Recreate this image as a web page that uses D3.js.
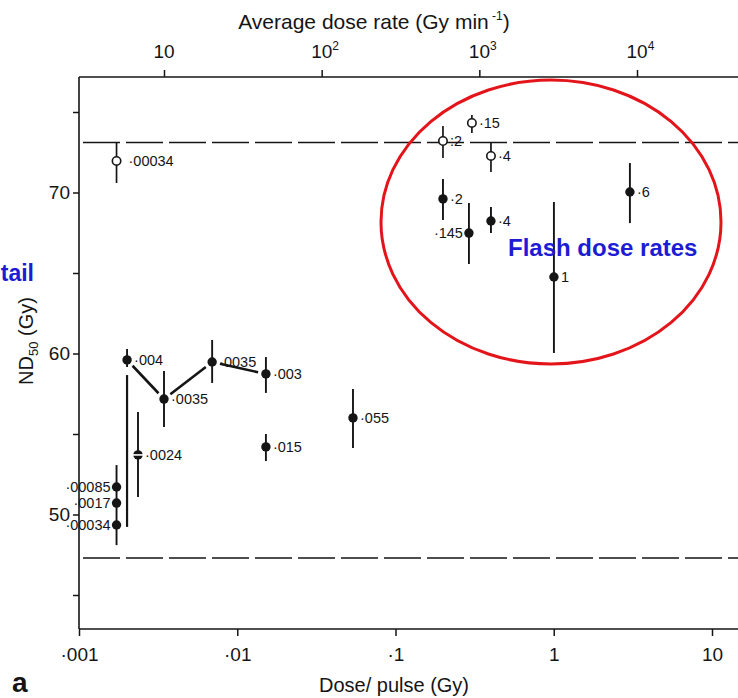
<!DOCTYPE html>
<html><head><meta charset="utf-8">
<script src="https://cdn.jsdelivr.net/npm/d3@7"></script>
<style>
body{margin:0;background:#fff}
svg{display:block;font-family:"Liberation Sans",Arial,Helvetica,sans-serif}
</style>
</head><body>
<svg id="c" width="738" height="698"></svg>
<script>
// ---------- data ----------
const rateTicks = [10, 100, 1000, 10000];
const doseTicks = [0.001, 0.01, 0.1, 1, 10];
const doseTickLabels = ["·001", "·01", "·1", "1", "10"];
const ndTicks = [45, 50, 55, 60, 65, 70, 75];
const ndTickLabels = ["", "50", "", "60", "", "70", ""];

// open circles (average dose rate in Gy/min, ND50 in Gy)
const openRate  = [5.0, 588, 897, 1185];
const openND    = [71.96, 73.2, 74.32, 72.27];
const openLo    = [70.59, 72.14, 73.70, 71.27];
const openHi    = [73.14, 74.13, 74.81, 73.07];
const openPulse = ["·00034", ":2", "·15", "·4"];

// filled circles
const filledRate  = [5.0, 5.0, 5.0, 5.83, 6.84, 10.0, 20.2, 44.3, 44.3, 158, 588, 859, 1185, 2972, 9016];
const filledND    = [51.71, 50.71, 49.35, 59.6, 53.7, 57.17, 59.47, 58.73, 54.2, 56.0, 69.6, 67.48, 68.23, 64.75, 70.03];
const filledLo    = [51.71, 49.35, 48.1, 59.16, 51.09, 55.43, 58.17, 57.55, 53.32, 54.13, 68.29, 65.56, 67.48, 60.03, 68.1];
const filledHi    = [53.07, 51.71, 49.35, 60.28, 56.37, 58.91, 60.84, 59.78, 55.0, 57.8, 70.84, 69.35, 69.1, 69.41, 71.83];
const filledPulse = ["·00085", "·0017", "·00034", "·004", "·0024", "·0035", "·0035", "·003", "·015", "·055", "·2", "·145", "·4", "1", "·6"];
const filledLabelLeft = [true, true, true, false, false, false, false, false, false, false, false, true, false, false, false];
const filledSplit     = [false, false, false, false, true, false, false, false, false, false, false, false, false, false, false];

// joined curve and the vertical rise
const trendRate = [5.83, 10.0, 20.2, 44.3];
const trendND   = [59.6, 57.17, 59.47, 58.73];
const riseRate  = [5.83, 5.83];
const riseND    = [49.23, 58.66];

// dashed reference levels
const refLines = [73.1, 47.3];

// ---------- layout ----------
const L = 79, T = 77, B = 629, R = 760;
const svg = d3.select("#c");
const ink = "#151515";

const xRate = d3.scaleLog().domain([10, 10000]).range([164, 637]);
const xDose = d3.scaleLog().domain([0.001, 10]).range([79, 712]);
const y = d3.scaleLinear().domain([50, 70]).range([514.5, 192.5]);

// frame lines
svg.append("line").attr("x1", L).attr("x2", R).attr("y1", T).attr("y2", T).attr("stroke", ink).attr("stroke-width", 1.6);
svg.append("line").attr("x1", L).attr("x2", R).attr("y1", B).attr("y2", B).attr("stroke", ink).attr("stroke-width", 1.6);
svg.append("line").attr("x1", L).attr("x2", L).attr("y1", T).attr("y2", B).attr("stroke", ink).attr("stroke-width", 1.6);

// top axis
const gTop = svg.append("g").attr("transform", `translate(0,${T})`)
  .call(d3.axisTop(xRate).tickValues(rateTicks).tickSize(7).tickPadding(12).tickFormat(() => ""));
gTop.select(".domain").remove();
gTop.selectAll(".tick line").attr("stroke", ink).attr("stroke-width", 1.5);
gTop.selectAll(".tick text").each(function(d) {
  const e = Math.round(Math.log10(d));
  const t = d3.select(this).attr("text-anchor", "start").attr("x", -11)
    .attr("font-size", 19).attr("fill", ink);
  t.append("tspan").text("10");
  if (e > 1) t.append("tspan").attr("dy", -8).attr("font-size", 12).text(e);
});
gTop.attr("font-family", null);

// bottom axis
const gBot = svg.append("g").attr("transform", `translate(0,${B})`)
  .call(d3.axisBottom(xDose).tickValues(doseTicks).tickSize(7).tickPadding(12)
    .tickFormat((d, i) => doseTickLabels[i]));
gBot.select(".domain").remove();
gBot.attr("font-family", null);
gBot.selectAll(".tick line").attr("stroke", ink).attr("stroke-width", 1.5);
gBot.selectAll(".tick text").attr("font-size", 19).attr("fill", ink);

// left axis
const gLeft = svg.append("g").attr("transform", `translate(${L},0)`)
  .call(d3.axisLeft(y).tickValues(ndTicks).tickSize(6).tickPadding(3)
    .tickFormat((d, i) => ndTickLabels[i]));
gLeft.select(".domain").remove();
gLeft.attr("font-family", null);
gLeft.selectAll(".tick line").attr("stroke", ink).attr("stroke-width", 1.5);
gLeft.selectAll(".tick text").attr("font-size", 19).attr("fill", ink);

// axis titles
const topTitle = svg.append("text").attr("x", 374).attr("y", 29).attr("text-anchor", "middle")
  .attr("font-size", 21).attr("fill", ink);
topTitle.append("tspan").text("Average dose rate (Gy min");
topTitle.append("tspan").attr("dy", -9).attr("font-size", 12).text(" -1");
topTitle.append("tspan").attr("dy", 9).text(")");

svg.append("text").attr("x", 394).attr("y", 692).attr("text-anchor", "middle")
  .attr("font-size", 20).attr("fill", ink).text("Dose/ pulse (Gy)");

const yTitle = svg.append("text").attr("transform", "translate(33,341) rotate(-90)")
  .attr("text-anchor", "middle").attr("font-size", 20).attr("fill", ink);
yTitle.append("tspan").text("ND");
yTitle.append("tspan").attr("dy", 5).attr("font-size", 13).text("50");
yTitle.append("tspan").attr("dy", -5).text(" (Gy)");

svg.append("text").attr("x", 12).attr("y", 692).attr("font-size", 28).attr("font-weight", "bold")
  .attr("fill", ink).text("a");

// dashed reference lines
svg.selectAll("line.ref").data(refLines).enter().append("line").attr("class", "ref")
  .attr("x1", L + 4).attr("x2", R).attr("y1", d => y(d)).attr("y2", d => y(d))
  .attr("stroke", ink).attr("stroke-width", 1.5).attr("stroke-dasharray", "37,6");

// vertical rise line
svg.append("line")
  .attr("x1", xRate(riseRate[0])).attr("x2", xRate(riseRate[1]))
  .attr("y1", y(riseND[0])).attr("y2", y(riseND[1]))
  .attr("stroke", ink).attr("stroke-width", 2.2);

// trend segments trimmed near markers
const gap = 8;
for (let i = 0; i < trendRate.length - 1; i++) {
  const x1 = xRate(trendRate[i]), y1 = y(trendND[i]);
  const x2 = xRate(trendRate[i + 1]), y2 = y(trendND[i + 1]);
  const len = Math.hypot(x2 - x1, y2 - y1), ux = (x2 - x1) / len, uy = (y2 - y1) / len;
  svg.append("line")
    .attr("x1", x1 + ux * gap).attr("y1", y1 + uy * gap)
    .attr("x2", x2 - ux * gap).attr("y2", y2 - uy * gap)
    .attr("stroke", ink).attr("stroke-width", 2.6);
}

// error bars
const filledIdx = d3.range(filledRate.length);
const openIdx = d3.range(openRate.length);
svg.selectAll("line.fe").data(filledIdx).enter().append("line").attr("class", "fe")
  .attr("x1", i => xRate(filledRate[i])).attr("x2", i => xRate(filledRate[i]))
  .attr("y1", i => y(filledLo[i])).attr("y2", i => y(filledHi[i]))
  .attr("stroke", ink).attr("stroke-width", 1.9);
svg.selectAll("line.oe").data(openIdx).enter().append("line").attr("class", "oe")
  .attr("x1", i => xRate(openRate[i])).attr("x2", i => xRate(openRate[i]))
  .attr("y1", i => y(openLo[i])).attr("y2", i => y(openHi[i]))
  .attr("stroke", ink).attr("stroke-width", 1.7);

// markers
svg.selectAll("circle.f").data(filledIdx).enter().append("circle").attr("class", "f")
  .attr("cx", i => xRate(filledRate[i])).attr("cy", i => y(filledND[i]))
  .attr("r", 4.7).attr("fill", ink);
svg.selectAll("line.split").data(filledIdx.filter(i => filledSplit[i])).enter().append("line").attr("class", "split")
  .attr("x1", i => xRate(filledRate[i]) - 6).attr("x2", i => xRate(filledRate[i]) + 6)
  .attr("y1", i => y(filledND[i])).attr("y2", i => y(filledND[i]))
  .attr("stroke", "#fff").attr("stroke-width", 1.6);
svg.selectAll("circle.o").data(openIdx).enter().append("circle").attr("class", "o")
  .attr("cx", i => xRate(openRate[i])).attr("cy", i => y(openND[i]))
  .attr("r", 4.2).attr("fill", "#fff").attr("stroke", ink).attr("stroke-width", 1.6);

// point labels (dose per pulse)
svg.selectAll("text.fl").data(filledIdx).enter().append("text").attr("class", "fl")
  .attr("x", i => xRate(filledRate[i]) + (filledLabelLeft[i] ? -6 : 7))
  .attr("y", i => y(filledND[i]) + 5)
  .attr("text-anchor", i => filledLabelLeft[i] ? "end" : "start")
  .attr("font-size", 14.5).attr("fill", ink).text(i => filledPulse[i]);
svg.selectAll("text.ol").data(openIdx).enter().append("text").attr("class", "ol")
  .attr("x", i => xRate(openRate[i]) + (i === 0 ? 12 : 7))
  .attr("y", i => y(openND[i]) + 5)
  .attr("font-size", 14.5).attr("fill", ink).text(i => openPulse[i]);

// annotations
svg.append("ellipse").attr("cx", 551).attr("cy", 222).attr("rx", 170).attr("ry", 142)
  .attr("fill", "none").attr("stroke", "#e3151b").attr("stroke-width", 3);
svg.append("text").attr("x", 508).attr("y", 256).attr("font-size", 24).attr("font-weight", "bold")
  .attr("fill", "#1c1cd4").text("Flash dose rates");
svg.append("text").attr("x", 34).attr("y", 281).attr("text-anchor", "end").attr("font-size", 23).attr("font-weight", "bold")
  .attr("fill", "#1c1cd4").text("tail");
</script>
</body></html>
